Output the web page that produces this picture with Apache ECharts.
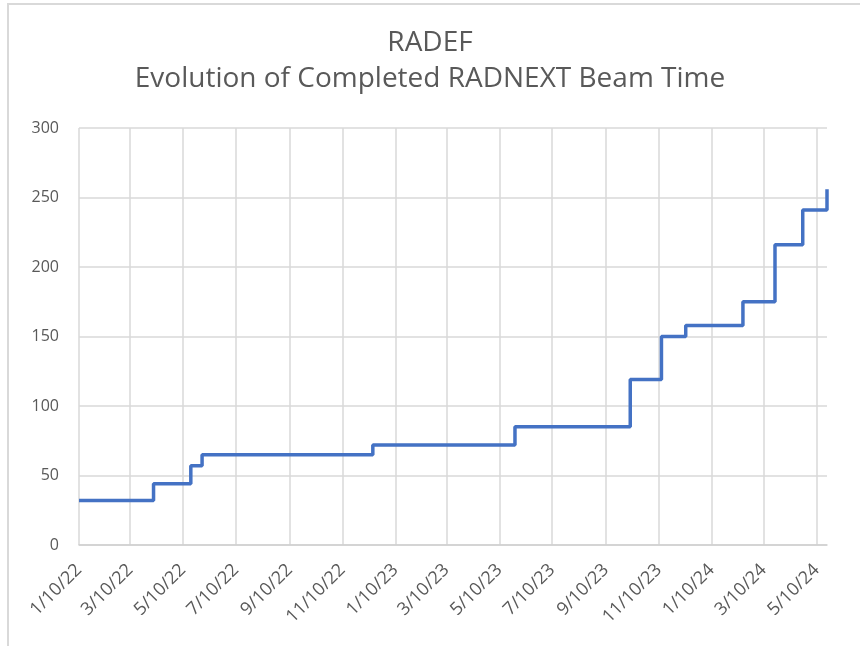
<!DOCTYPE html>
<html>
<head>
<meta charset="utf-8">
<script src="https://cdn.jsdelivr.net/npm/echarts@6/dist/echarts.min.js"></script>
<style>
html,body{margin:0;padding:0;background:#fff;}
#chart{width:860px;height:646px;}
</style>
</head>
<body>
<div id="chart"></div>
<script>
// ---- data ----
const titleLines = ['RADEF', 'Evolution of Completed RADNEXT Beam Time'];
const stepDates = ['2022-01-10','2022-04-06','2022-05-19','2022-06-01','2022-12-15','2023-05-28','2023-10-08','2023-11-13','2023-12-11','2024-02-15','2024-03-23','2024-04-24','2024-05-22'];
const stepValues = [32, 44, 57, 65, 72, 85, 119, 150, 158, 175, 216, 241, 256];
const tickDates = ['2022-01-10','2022-03-10','2022-05-10','2022-07-10','2022-09-10','2022-11-10','2023-01-10','2023-03-10','2023-05-10','2023-07-10','2023-09-10','2023-11-10','2024-01-10','2024-03-10','2024-05-10'];
const yMin = 0, yMax = 300, yStep = 50;

const toTs = s => Date.parse(s + 'T00:00:00Z');
const seriesData = stepDates.map((d, i) => [toTs(d), stepValues[i]]);
const tickTs = tickDates.map(toTs);
const fmt = v => { const d = new Date(v); return (d.getUTCMonth() + 1) + '/' + d.getUTCDate() + '/' + String(d.getUTCFullYear()).slice(2); };

const chart = echarts.init(document.getElementById('chart'), null, {renderer: 'canvas'});
chart.setOption({
  animation: false,
  backgroundColor: '#fff',
  textStyle: {fontFamily: 'Open Sans'},
  graphic: [{
    type: 'rect', silent: true, z: -1,
    shape: {x: 8, y: 4, width: 900, height: 700},
    style: {fill: 'none', stroke: '#d9d9d9', lineWidth: 2}
  }],
  title: {
    text: titleLines.join('\n'),
    left: 'center', top: 20,
    textStyle: {fontFamily: 'Open Sans', fontSize: 28, fontWeight: 'normal', color: '#595959', lineHeight: 36}
  },
  grid: {left: 79, right: 33, top: 128, bottom: 101},
  xAxis: {
    type: 'value',
    min: toTs(tickDates[0]),
    max: toTs(stepDates[stepDates.length - 1]),
    axisLine: {show: true, lineStyle: {color: '#d0d0d0', width: 1.5}},
    axisTick: {show: false, customValues: tickTs},
    splitLine: {show: true, lineStyle: {color: '#d9d9d9', width: 1.5}},
    axisLabel: {
      customValues: tickTs,
      formatter: fmt,
      rotate: 45, margin: 22,
      color: '#595959', fontSize: 18, fontFamily: 'Open Sans'
    }
  },
  yAxis: {
    type: 'value', min: yMin, max: yMax, interval: yStep,
    axisLine: {show: false}, axisTick: {show: false},
    splitLine: {lineStyle: {color: '#d9d9d9', width: 1.5}},
    axisLabel: {color: '#595959', fontSize: 16, margin: 20, fontFamily: 'Open Sans'}
  },
  series: [{
    type: 'line', step: 'end', data: seriesData,
    showSymbol: false, symbol: 'none',
    lineStyle: {color: '#4472C4', width: 3.5}
  }]
});
</script>
</body>
</html>
